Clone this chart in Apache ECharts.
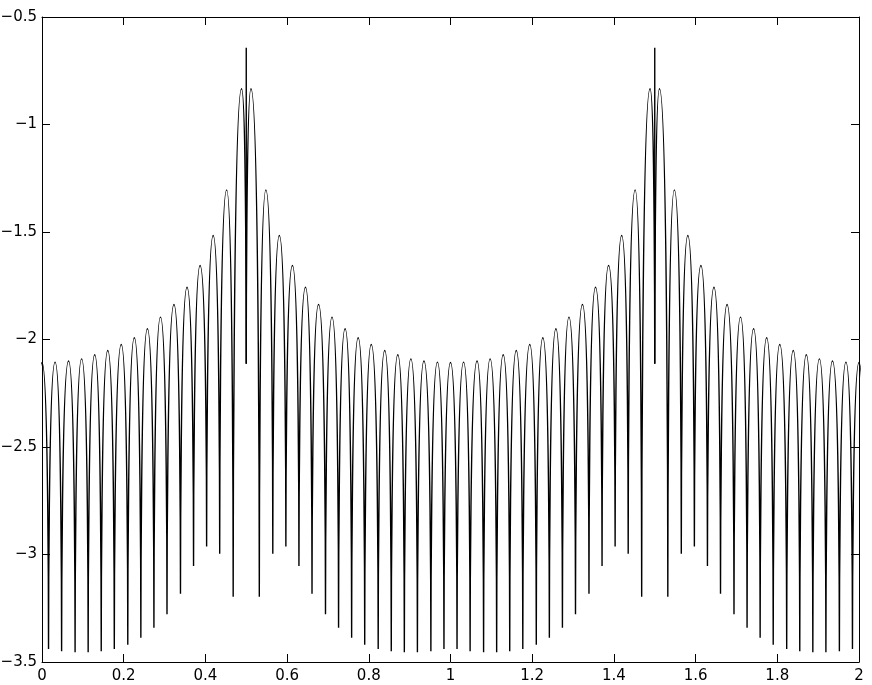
<!DOCTYPE html>
<html lang="en">
	<head>
		<meta charset="utf-8">
		<title>lobes</title>
		<style>
			html, body { margin: 0; padding: 0; background: #fff; }
			#chart-main { width: 872px; height: 685px; }
		</style>
	</head>
	<body>
		<div id="chart-main"></div>

		<script src="https://cdn.jsdelivr.net/npm/echarts@6/dist/echarts.min.js"></script>
		<script type="text/javascript">
			//tick values of both axes
			var xTicks = [0, 0.2, 0.4, 0.6, 0.8, 1, 1.2, 1.4, 1.6, 1.8, 2];
			var yTicks = [-3.5, -3, -2.5, -2, -1.5, -1, -0.5];

			//bottoms of the lobes (nulls), 0.5 and 1.5 are the notches
			var nullX = [-0.016, 0.016, 0.048, 0.081, 0.113, 0.145, 0.177, 0.210, 0.242, 0.274, 0.306, 0.339, 0.371, 0.403, 0.435, 0.468, 0.500,
				0.532, 0.565, 0.597, 0.629, 0.661, 0.694, 0.726, 0.758, 0.790, 0.823, 0.855, 0.887, 0.919, 0.952, 0.984,
				1.016, 1.048, 1.081, 1.113, 1.145, 1.177, 1.210, 1.242, 1.274, 1.306, 1.339, 1.371, 1.403, 1.435, 1.468, 1.500,
				1.532, 1.565, 1.597, 1.629, 1.661, 1.694, 1.726, 1.758, 1.790, 1.823, 1.855, 1.887, 1.919, 1.952, 1.984, 2.016];
			var nullY = [-3.44, -3.44, -3.45, -3.455, -3.455, -3.45, -3.44, -3.42, -3.387, -3.341, -3.278, -3.183, -3.054, -2.963, -2.997, -3.197, -2.113,
				-3.197, -2.997, -2.963, -3.054, -3.183, -3.278, -3.341, -3.387, -3.42, -3.44, -3.45, -3.455, -3.455, -3.45, -3.44,
				-3.44, -3.45, -3.455, -3.455, -3.45, -3.44, -3.42, -3.387, -3.341, -3.278, -3.183, -3.054, -2.963, -2.997, -3.197, -2.113,
				-3.197, -2.997, -2.963, -3.054, -3.183, -3.278, -3.341, -3.387, -3.42, -3.44, -3.45, -3.455, -3.455, -3.45, -3.44, -3.44];

			//tops of the lobes, one between each pair of nulls
			var peakX = [0.000, 0.032, 0.065, 0.097, 0.129, 0.161, 0.194, 0.226, 0.258, 0.290, 0.323, 0.355, 0.387, 0.419, 0.452, 0.4885,
				0.5115, 0.548, 0.581, 0.613, 0.645, 0.677, 0.710, 0.742, 0.774, 0.806, 0.839, 0.871, 0.903, 0.935, 0.968,
				1.000, 1.032, 1.065, 1.097, 1.129, 1.161, 1.194, 1.226, 1.258, 1.290, 1.323, 1.355, 1.387, 1.419, 1.452, 1.4885,
				1.5115, 1.548, 1.581, 1.613, 1.645, 1.677, 1.710, 1.742, 1.774, 1.806, 1.839, 1.871, 1.903, 1.935, 1.968, 2.000];
			var peakY = [-2.107, -2.105, -2.10, -2.09, -2.071, -2.051, -2.023, -1.992, -1.950, -1.896, -1.837, -1.757, -1.656, -1.516, -1.304, -0.834,
				-0.834, -1.304, -1.516, -1.656, -1.757, -1.837, -1.896, -1.950, -1.992, -2.023, -2.051, -2.071, -2.09, -2.10, -2.105,
				-2.107, -2.105, -2.10, -2.09, -2.071, -2.051, -2.023, -1.992, -1.950, -1.896, -1.837, -1.757, -1.656, -1.516, -1.304, -0.834,
				-0.834, -1.304, -1.516, -1.656, -1.757, -1.837, -1.896, -1.950, -1.992, -2.023, -2.051, -2.071, -2.09, -2.10, -2.105, -2.107];

			//the thin vertical spikes at the notches
			var spikeX = [0.5, 1.5];
			var spikeLow = [-2.113, -2.113];
			var spikeHigh = [-0.643, -0.643];

			var mainChart = null;

			window.onload = function(){
				viewMainChart();
			};

			/**
			 * every lobe is its own piece (null, top, null), broken with '-'
			 */
			function buildLobes() {
				var pts = [];
				for (var i = 0; i < peakX.length; i++) {
					pts.push([nullX[i], nullY[i]]);
					pts.push([peakX[i], peakY[i]]);
					pts.push([nullX[i + 1], nullY[i + 1]]);
					pts.push([nullX[i + 1], '-']);
				}
				return pts;
			}

			function buildSpikes() {
				var pts = [];
				for (var i = 0; i < spikeX.length; i++) {
					pts.push([spikeX[i], spikeLow[i]]);
					pts.push([spikeX[i], spikeHigh[i]]);
					pts.push([spikeX[i], '-']);
				}
				return pts;
			}

			function minusSign(v) {
				return String(v).replace('-', '\u2212');
			}

			function viewMainChart() {
				mainChart = echarts.init(document.getElementById("chart-main"), null, {renderer: 'canvas'});

				var lineStyle = {color: '#000', width: 1};
				var labelFont = {color: '#000', fontFamily: 'DejaVu Sans', fontSize: 15};
				var xMin = xTicks[0], xMax = xTicks[xTicks.length - 1];
				var yMin = yTicks[0], yMax = yTicks[yTicks.length - 1];
				var xStep = xTicks[1] - xTicks[0], yStep = yTicks[1] - yTicks[0];

				function xAxisOf(pos, showLabel) {
					return {
						type: 'value', position: pos, min: xMin, max: xMax, interval: xStep,
						axisLine: {show: true, onZero: false, lineStyle: lineStyle},
						axisTick: {show: true, inside: true, length: 8, lineStyle: lineStyle},
						axisLabel: Object.assign({show: showLabel, margin: 7}, labelFont),
						splitLine: {show: false}
					};
				}

				function yAxisOf(pos, showLabel) {
					return {
						type: 'value', position: pos, min: yMin, max: yMax, interval: yStep,
						axisLine: {show: true, onZero: false, lineStyle: lineStyle},
						axisTick: {show: true, inside: true, length: 8, lineStyle: lineStyle},
						axisLabel: Object.assign({show: showLabel, margin: 5, formatter: minusSign}, labelFont),
						splitLine: {show: false}
					};
				}

				var option = {
					backgroundColor: '#fff',
					animation: false,
					grid: {left: 42, right: 13, top: 17, bottom: 23, containLabel: false, outerBoundsMode: 'none'},
					xAxis: [xAxisOf('bottom', true), xAxisOf('top', false)],
					yAxis: [yAxisOf('left', true), yAxisOf('right', false)],
					series: [
						{
							name: 'lobes',
							type: 'line',
							data: buildLobes(),
							showSymbol: false,
							symbol: 'none',
							smooth: 1,
							smoothMonotone: 'x',
							connectNulls: false,
							lineStyle: {color: '#000', width: 1.4},
							silent: true
						},
						{
							name: 'spikes',
							type: 'line',
							data: buildSpikes(),
							showSymbol: false,
							symbol: 'none',
							connectNulls: false,
							lineStyle: {color: '#000', width: 1.4},
							silent: true
						}
					]
				};
				mainChart.setOption(option);
			}
		</script>
	</body>
</html>
